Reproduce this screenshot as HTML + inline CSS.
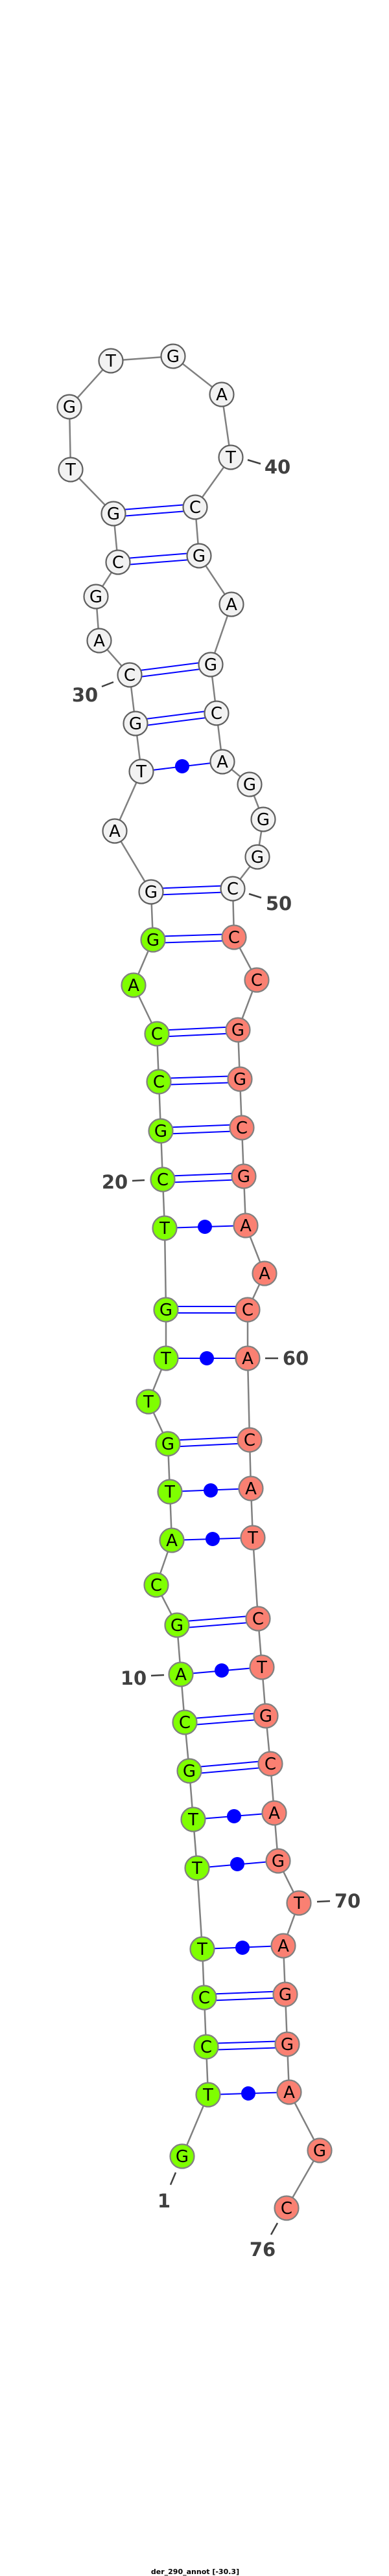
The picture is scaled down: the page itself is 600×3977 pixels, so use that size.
<!DOCTYPE html>
<html><head><meta charset="utf-8">
<style>
html,body{margin:0;padding:0;background:#fff;}
svg{display:block;}
.bb{stroke:#808080;stroke-width:2.5;fill:none;}
.pr{stroke:#0000ff;stroke-width:2;fill:none;}
.n circle{stroke:#808080;stroke-width:2.2;}
.w circle{fill:#f2f2f2;stroke:#606060;}
.g circle{fill:#7fff00;}
.r circle{fill:#fa8072;}
.n text{font-family:"DejaVu Sans","Liberation Sans",sans-serif;font-size:26px;text-anchor:middle;fill:#000;}
.lb{font-family:"DejaVu Sans","Liberation Sans",sans-serif;font-weight:bold;font-size:29px;fill:#404040;text-anchor:middle;}
.tk{stroke:#404040;stroke-width:2.5;}
</style></head>
<body>
<svg width="600" height="3977" viewBox="0 0 600 3977" xmlns="http://www.w3.org/2000/svg">
<!-- backbone -->
<polyline class="bb" points="281,3329 321,3234 318,3160 315,3084 312,3009 304,2884 298,2809 292,2734 285,2659 279,2585 273,2509 241,2447 265,2378 262,2303 259,2229 229,2164 256,2097 256,2022 254,1896 251,1821 248,1746 245,1670 242,1596 206,1521 236,1451 233,1377 177,1283 218,1191 209,1117 200,1042 153,989 148,921 182,868 175,793 109,725 107,628 171,557 267,550 342,609 356,706 301,783 307,858 357,933 325,1026 334,1101 343,1176 385,1211 406,1265 397,1323 359,1372 361,1447 396,1513 367,1590 370,1666 373,1741 376,1816 379,1892 408,1966 382,2022 382,2097 385,2223 387,2298 390,2374 398,2499 404,2574 410,2649 417,2723 423,2799 429,2873 461,2938 437,3004 440,3079 443,3156 446,3230 493,3320 442,3409"/>
<!-- double pairs -->
<g class="pr">
<path d="M318,3155 L443,3151 M318,3165 L443,3161"/>
<path d="M315,3079 L440,3074 M315,3089 L440,3084"/>
<path d="M292,2729 L417,2718 M292,2739 L417,2728"/>
<path d="M285,2654 L410,2644 M285,2664 L410,2654"/>
<path d="M273,2504 L398,2494 M273,2514 L398,2504"/>
<path d="M259,2224 L385,2218 M259,2234 L385,2228"/>
<path d="M256,2017 L382,2017 M256,2027 L382,2027"/>
<path d="M251,1816 L376,1811 M251,1826 L376,1821"/>
<path d="M248,1741 L373,1736 M248,1751 L373,1746"/>
<path d="M245,1665 L370,1661 M245,1675 L370,1671"/>
<path d="M242,1591 L367,1585 M242,1601 L367,1595"/>
<path d="M236,1446 L361,1442 M236,1456 L361,1452"/>
<path d="M233,1372 L359,1367 M233,1382 L359,1377"/>
<path d="M209,1112 L334,1096 M209,1122 L334,1106"/>
<path d="M200,1037 L325,1021 M200,1047 L325,1031"/>
<path d="M182,863 L307,853 M182,873 L307,863"/>
<path d="M175,788 L301,778 M175,798 L301,788"/>
</g>
<!-- dot pairs -->
<g class="pr">
<line x1="321" y1="3234" x2="446" y2="3230"/>
<line x1="312" y1="3009" x2="437" y2="3004"/>
<line x1="304" y1="2884" x2="429" y2="2873"/>
<line x1="298" y1="2809" x2="423" y2="2799"/>
<line x1="279" y1="2585" x2="404" y2="2574"/>
<line x1="265" y1="2378" x2="390" y2="2374"/>
<line x1="262" y1="2303" x2="387" y2="2298"/>
<line x1="256" y1="2097" x2="382" y2="2097"/>
<line x1="254" y1="1896" x2="379" y2="1892"/>
<line x1="218" y1="1191" x2="343" y2="1176"/>
</g>
<g fill="#0000ff">
<circle cx="383" cy="3232" r="11"/>
<circle cx="374" cy="3007" r="11"/>
<circle cx="366" cy="2878" r="11"/>
<circle cx="361" cy="2804" r="11"/>
<circle cx="342" cy="2579" r="11"/>
<circle cx="328" cy="2376" r="11"/>
<circle cx="325" cy="2301" r="11"/>
<circle cx="319" cy="2097" r="11"/>
<circle cx="316" cy="1894" r="11"/>
<circle cx="281" cy="1183" r="11"/>
</g>
<!-- label ticks -->
<g class="tk">
<line x1="382" y1="710" x2="402" y2="716"/>
<line x1="157" y1="1060" x2="175" y2="1053"/>
<line x1="384" y1="1380" x2="403" y2="1386"/>
<line x1="204" y1="1823" x2="223" y2="1822"/>
<line x1="409" y1="2097" x2="429" y2="2097"/>
<line x1="233" y1="2587" x2="253" y2="2586"/>
<line x1="489" y1="2936" x2="509" y2="2935"/>
<line x1="271" y1="3354" x2="263" y2="3373"/>
<line x1="428" y1="3432" x2="418" y2="3450"/>
</g>
<!-- nodes -->
<g class="n w">
<g><circle cx="233" cy="1377" r="18.5"/><text x="233" y="1386">G</text></g>
<g><circle cx="177" cy="1283" r="18.5"/><text x="177" y="1292">A</text></g>
<g><circle cx="218" cy="1191" r="18.5"/><text x="218" y="1200">T</text></g>
<g><circle cx="209" cy="1117" r="18.5"/><text x="209" y="1126">G</text></g>
<g><circle cx="200" cy="1042" r="18.5"/><text x="200" y="1051">C</text></g>
<g><circle cx="153" cy="989" r="18.5"/><text x="153" y="998">A</text></g>
<g><circle cx="148" cy="921" r="18.5"/><text x="148" y="930">G</text></g>
<g><circle cx="182" cy="868" r="18.5"/><text x="182" y="877">C</text></g>
<g><circle cx="175" cy="793" r="18.5"/><text x="175" y="802">G</text></g>
<g><circle cx="109" cy="725" r="18.5"/><text x="109" y="734">T</text></g>
<g><circle cx="107" cy="628" r="18.5"/><text x="107" y="637">G</text></g>
<g><circle cx="171" cy="557" r="18.5"/><text x="171" y="566">T</text></g>
<g><circle cx="267" cy="550" r="18.5"/><text x="267" y="559">G</text></g>
<g><circle cx="342" cy="609" r="18.5"/><text x="342" y="618">A</text></g>
<g><circle cx="356" cy="706" r="18.5"/><text x="356" y="715">T</text></g>
<g><circle cx="301" cy="783" r="18.5"/><text x="301" y="792">C</text></g>
<g><circle cx="307" cy="858" r="18.5"/><text x="307" y="867">G</text></g>
<g><circle cx="357" cy="933" r="18.5"/><text x="357" y="942">A</text></g>
<g><circle cx="325" cy="1026" r="18.5"/><text x="325" y="1035">G</text></g>
<g><circle cx="334" cy="1101" r="18.5"/><text x="334" y="1110">C</text></g>
<g><circle cx="343" cy="1176" r="18.5"/><text x="343" y="1185">A</text></g>
<g><circle cx="385" cy="1211" r="18.5"/><text x="385" y="1220">G</text></g>
<g><circle cx="406" cy="1265" r="18.5"/><text x="406" y="1274">G</text></g>
<g><circle cx="397" cy="1323" r="18.5"/><text x="397" y="1332">G</text></g>
<g><circle cx="359" cy="1372" r="18.5"/><text x="359" y="1381">C</text></g>
</g>
<g class="n g">
<g><circle cx="281" cy="3329" r="18.5"/><text x="281" y="3338">G</text></g>
<g><circle cx="321" cy="3234" r="18.5"/><text x="321" y="3243">T</text></g>
<g><circle cx="318" cy="3160" r="18.5"/><text x="318" y="3169">C</text></g>
<g><circle cx="315" cy="3084" r="18.5"/><text x="315" y="3093">C</text></g>
<g><circle cx="312" cy="3009" r="18.5"/><text x="312" y="3018">T</text></g>
<g><circle cx="304" cy="2884" r="18.5"/><text x="304" y="2893">T</text></g>
<g><circle cx="298" cy="2809" r="18.5"/><text x="298" y="2818">T</text></g>
<g><circle cx="292" cy="2734" r="18.5"/><text x="292" y="2743">G</text></g>
<g><circle cx="285" cy="2659" r="18.5"/><text x="285" y="2668">C</text></g>
<g><circle cx="279" cy="2585" r="18.5"/><text x="279" y="2594">A</text></g>
<g><circle cx="273" cy="2509" r="18.5"/><text x="273" y="2518">G</text></g>
<g><circle cx="241" cy="2447" r="18.5"/><text x="241" y="2456">C</text></g>
<g><circle cx="265" cy="2378" r="18.5"/><text x="265" y="2387">A</text></g>
<g><circle cx="262" cy="2303" r="18.5"/><text x="262" y="2312">T</text></g>
<g><circle cx="259" cy="2229" r="18.5"/><text x="259" y="2238">G</text></g>
<g><circle cx="229" cy="2164" r="18.5"/><text x="229" y="2173">T</text></g>
<g><circle cx="256" cy="2097" r="18.5"/><text x="256" y="2106">T</text></g>
<g><circle cx="256" cy="2022" r="18.5"/><text x="256" y="2031">G</text></g>
<g><circle cx="254" cy="1896" r="18.5"/><text x="254" y="1905">T</text></g>
<g><circle cx="251" cy="1821" r="18.5"/><text x="251" y="1830">C</text></g>
<g><circle cx="248" cy="1746" r="18.5"/><text x="248" y="1755">G</text></g>
<g><circle cx="245" cy="1670" r="18.5"/><text x="245" y="1679">C</text></g>
<g><circle cx="242" cy="1596" r="18.5"/><text x="242" y="1605">C</text></g>
<g><circle cx="206" cy="1521" r="18.5"/><text x="206" y="1530">A</text></g>
<g><circle cx="236" cy="1451" r="18.5"/><text x="236" y="1460">G</text></g>
</g>
<g class="n r">
<g><circle cx="361" cy="1447" r="18.5"/><text x="361" y="1456">C</text></g>
<g><circle cx="396" cy="1513" r="18.5"/><text x="396" y="1522">C</text></g>
<g><circle cx="367" cy="1590" r="18.5"/><text x="367" y="1599">G</text></g>
<g><circle cx="370" cy="1666" r="18.5"/><text x="370" y="1675">G</text></g>
<g><circle cx="373" cy="1741" r="18.5"/><text x="373" y="1750">C</text></g>
<g><circle cx="376" cy="1816" r="18.5"/><text x="376" y="1825">G</text></g>
<g><circle cx="379" cy="1892" r="18.5"/><text x="379" y="1901">A</text></g>
<g><circle cx="408" cy="1966" r="18.5"/><text x="408" y="1975">A</text></g>
<g><circle cx="382" cy="2022" r="18.5"/><text x="382" y="2031">C</text></g>
<g><circle cx="382" cy="2097" r="18.5"/><text x="382" y="2106">A</text></g>
<g><circle cx="385" cy="2223" r="18.5"/><text x="385" y="2232">C</text></g>
<g><circle cx="387" cy="2298" r="18.5"/><text x="387" y="2307">A</text></g>
<g><circle cx="390" cy="2374" r="18.5"/><text x="390" y="2383">T</text></g>
<g><circle cx="398" cy="2499" r="18.5"/><text x="398" y="2508">C</text></g>
<g><circle cx="404" cy="2574" r="18.5"/><text x="404" y="2583">T</text></g>
<g><circle cx="410" cy="2649" r="18.5"/><text x="410" y="2658">G</text></g>
<g><circle cx="417" cy="2723" r="18.5"/><text x="417" y="2732">C</text></g>
<g><circle cx="423" cy="2799" r="18.5"/><text x="423" y="2808">A</text></g>
<g><circle cx="429" cy="2873" r="18.5"/><text x="429" y="2882">G</text></g>
<g><circle cx="461" cy="2938" r="18.5"/><text x="461" y="2947">T</text></g>
<g><circle cx="437" cy="3004" r="18.5"/><text x="437" y="3013">A</text></g>
<g><circle cx="440" cy="3079" r="18.5"/><text x="440" y="3088">G</text></g>
<g><circle cx="443" cy="3156" r="18.5"/><text x="443" y="3165">G</text></g>
<g><circle cx="446" cy="3230" r="18.5"/><text x="446" y="3239">A</text></g>
<g><circle cx="493" cy="3320" r="18.5"/><text x="493" y="3329">G</text></g>
<g><circle cx="442" cy="3409" r="18.5"/><text x="442" y="3418">C</text></g>
</g>
<!-- number labels -->
<text class="lb" x="428" y="731">40</text>
<text class="lb" x="131" y="1083">30</text>
<text class="lb" x="430" y="1405">50</text>
<text class="lb" x="177" y="1835">20</text>
<text class="lb" x="456" y="2107">60</text>
<text class="lb" x="206" y="2601">10</text>
<text class="lb" x="536" y="2945">70</text>
<text class="lb" x="253" y="3408">1</text>
<text class="lb" x="405" y="3483">76</text>
<!-- title -->
<text x="301" y="3974" text-anchor="middle" font-family="DejaVu Sans, Liberation Sans, sans-serif" font-weight="bold" font-size="11" fill="#000">der_290_annot [-30.3]</text>
</svg>
</body></html>
